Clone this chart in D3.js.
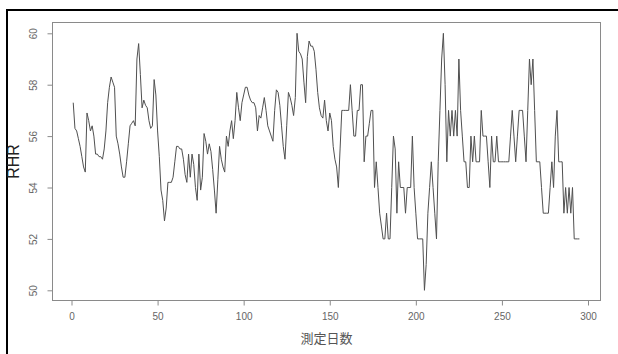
<!DOCTYPE html>
<html>
<head>
<meta charset="utf-8">
<script src="https://d3js.org/d3.v7.min.js"></script>
<style>
body { margin: 0; background: #fff; }
svg { display: block; }
</style>
</head>
<body>
<svg class="rhr-chart"></svg>
<script>
// resting heart rate per measurement day (day 1 .. 295)
var rhr = [
    57.3, 56.3, 56.2, 55.9, 55.6, 55.2, 54.8, 54.6, 56.9, 56.6,
    56.2, 56.4, 56.0, 55.3, 55.3, 55.2, 55.2, 55.1, 55.5, 56.2,
    57.3, 57.9, 58.3, 58.1, 57.9, 56.0, 55.7, 55.3, 54.8, 54.4,
    54.4, 55.0, 55.7, 56.4, 56.5, 56.6, 56.4, 59.0, 59.6, 58.4,
    57.1, 57.4, 57.2, 57.1, 56.6, 56.3, 56.4, 58.2, 57.6, 56.2,
    55.2, 53.9, 53.5, 52.7, 53.2, 54.2, 54.2, 54.2, 54.4, 55.0,
    55.6, 55.6, 55.5, 55.5, 55.1, 54.5, 54.2, 55.3, 54.4, 55.3,
    54.9, 54.0, 53.5, 55.3, 53.9, 54.4, 56.1, 55.8, 55.3, 55.7,
    55.4, 54.7, 53.9, 53.0, 54.3, 55.6, 55.1, 54.8, 54.6, 56.0,
    55.6, 56.2, 56.6, 55.9, 56.6, 57.7, 57.1, 56.6, 57.3, 57.6,
    57.9, 57.9, 57.6, 57.4, 57.3, 57.3, 57.1, 56.2, 56.8, 56.7,
    57.1, 57.5, 57.0, 56.4, 56.2, 56.0, 55.8, 57.0, 57.8, 57.7,
    57.2, 56.4, 55.6, 55.1, 56.4, 57.7, 57.5, 57.2, 56.8, 57.5,
    60.0, 59.3, 59.2, 59.0, 58.1, 57.3, 59.1, 59.7, 59.5, 59.5,
    59.3, 58.6, 57.7, 57.1, 56.8, 56.7, 57.4, 56.6, 56.2, 56.9,
    56.6, 55.6, 55.1, 54.8, 54.0, 55.5, 57, 57, 57, 57,
    57, 58, 57, 56, 56, 57, 57, 58, 58, 55,
    56, 56, 56.5, 57, 57, 54, 55, 54, 53, 52.5,
    52, 52, 53, 52, 52, 54, 56, 55.5, 53, 55,
    54, 54, 54, 53, 54, 54, 54, 56, 54, 53,
    52, 52, 52, 52, 50, 51, 53, 54, 55, 54,
    53, 52, 55, 57, 59, 60, 58, 55, 57, 56,
    57, 56, 57, 56, 59, 57, 56, 55, 55, 54,
    54, 56, 55, 56, 55, 55, 55, 57, 56, 56,
    56, 55, 54, 56, 55, 55, 56, 55, 55, 55,
    55, 55, 55, 55, 56, 57, 56, 55, 56, 57,
    57, 57, 56, 55, 57, 59, 58, 59, 57, 55,
    55, 55, 54, 53, 53, 53, 53, 54, 55, 54,
    56, 57, 55, 55, 55, 53, 54, 53, 54, 53,
    54, 52, 52, 52, 52
];
var xTicks = [0, 50, 100, 150, 200, 250, 300];
var yTicks = [50, 52, 54, 56, 58, 60];
var xTitle = "測定日数", yTitle = "RHR";

var svgWidth = 618, svgHeight = 354;
var box = { left: 52.5, right: 600.5, top: 22.5, bottom: 300.5 };

var svg = d3.select(".rhr-chart")
    .attr("width", svgWidth)
    .attr("height", svgHeight);

// black frame of the pasted figure (only top and left show)
svg.append("line")
    .attr("x1", 6).attr("x2", svgWidth)
    .attr("y1", 10).attr("y2", 10)
    .attr("stroke", "#000")
    .attr("stroke-width", 2);
svg.append("line")
    .attr("x1", 7).attr("x2", 7)
    .attr("y1", 9).attr("y2", svgHeight)
    .attr("stroke", "#000")
    .attr("stroke-width", 2);

var xScale = d3.scaleLinear()
    .domain([0, 300])
    .range([71.5, 588]);

var yScale = d3.scaleLinear()
    .domain([50, 60])
    .range([290.3, 33.3]);

svg.append("rect")
    .attr("x", box.left)
    .attr("y", box.top)
    .attr("width", box.right - box.left)
    .attr("height", box.bottom - box.top)
    .attr("fill", "none")
    .attr("stroke", "#8a8a8a")
    .attr("stroke-width", 1);

var xAxis = svg.append("g")
    .attr("transform", "translate(0," + box.bottom + ")")
    .call(d3.axisBottom(xScale).tickValues(xTicks).tickSize(5).tickPadding(7));
xAxis.select(".domain").remove();

var yAxis = svg.append("g")
    .attr("transform", "translate(" + box.left + ",0)")
    .call(d3.axisLeft(yScale).tickValues(yTicks).tickSize(5));
yAxis.select(".domain").remove();
yAxis.selectAll("text")
    .attr("transform", "rotate(-90)")
    .attr("x", 0)
    .attr("y", -16)
    .attr("dy", 0)
    .attr("text-anchor", "middle");

svg.selectAll(".tick line").attr("stroke", "#8a8a8a");
svg.selectAll(".tick text")
    .attr("fill", "#666")
    .style("font-family", "'Liberation Sans', Arial, sans-serif")
    .style("font-size", "10px");

var line = d3.line()
    .x(function(d, i) { return xScale(i + 1); })
    .y(function(d) { return yScale(d); });

svg.append("path")
    .datum(rhr)
    .attr("fill", "none")
    .attr("stroke", "#505050")
    .attr("stroke-width", 1)
    .attr("stroke-linejoin", "round")
    .attr("d", line);

svg.append("text")
    .attr("transform", "translate(19," + (box.top + box.bottom) / 2 + ") rotate(-90)")
    .attr("text-anchor", "middle")
    .attr("fill", "#222")
    .style("font-family", "'Liberation Sans', Arial, sans-serif")
    .style("font-size", "16px")
    .text(yTitle);

svg.append("text")
    .attr("x", (box.left + box.right) / 2)
    .attr("y", 343)
    .attr("text-anchor", "middle")
    .attr("fill", "#555")
    .style("font-family", "'Noto Sans CJK JP', sans-serif")
    .style("font-size", "13px")
    .text(xTitle);
</script>
</body>
</html>
